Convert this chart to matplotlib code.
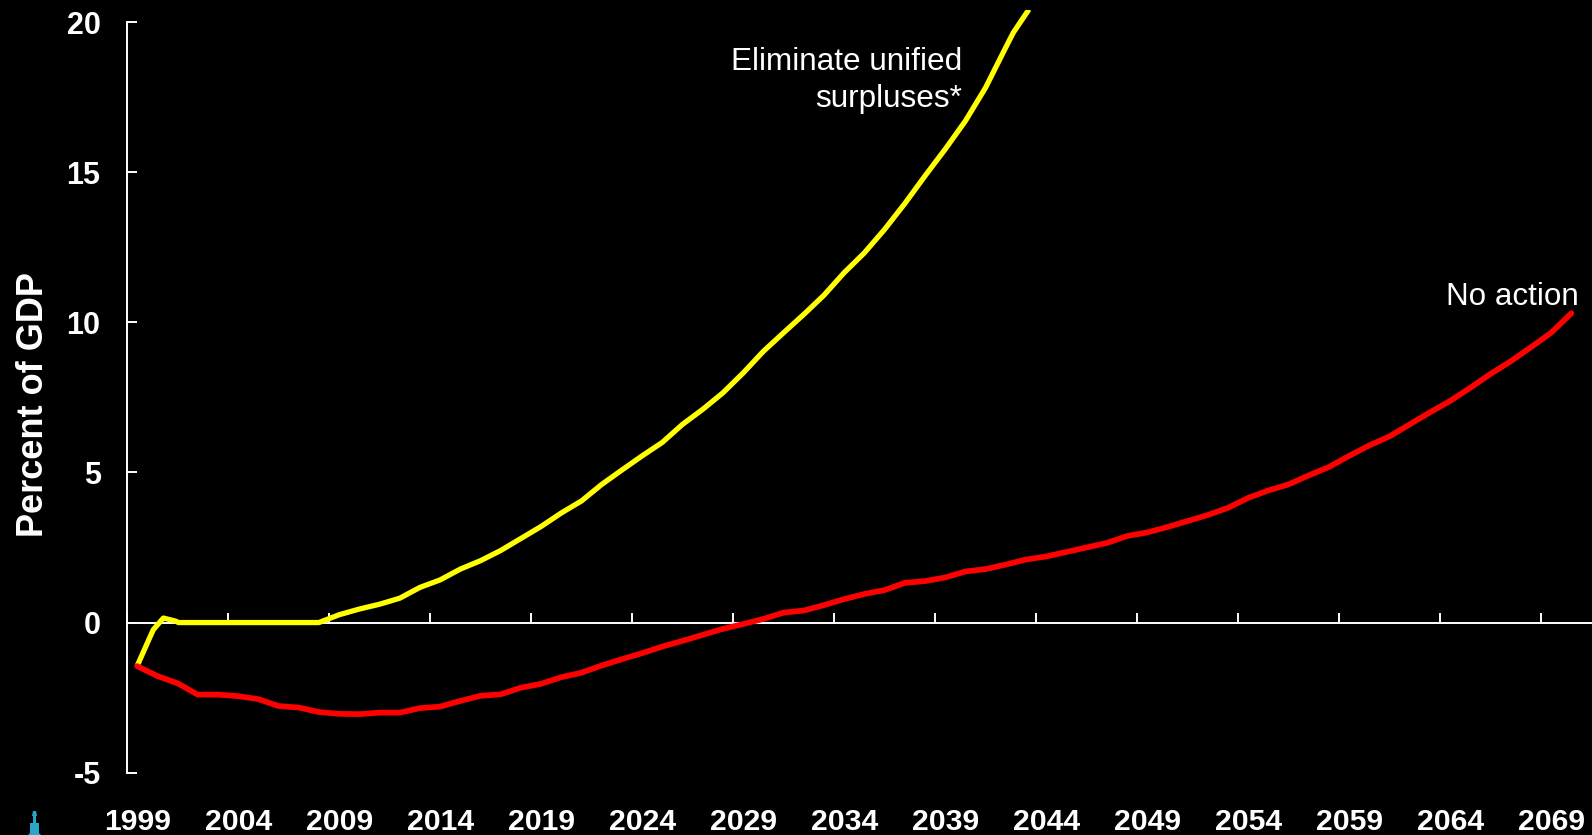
import matplotlib
matplotlib.use('Agg')
import matplotlib.pyplot as plt
from matplotlib.patches import Polygon
from matplotlib.transforms import blended_transform_factory

plt.rcParams['font.family'] = ['Liberation Sans', 'DejaVu Sans']
plt.rcParams['axes.unicode_minus'] = False

W, H = 1592, 835

# values, percent of GDP
no_action_years = list(range(1999, 2071))
no_action = [-1.45, -1.78, -2.02, -2.4, -2.4, -2.45, -2.55, -2.78, -2.83, -2.98,
             -3.04, -3.05, -3.0, -3.0, -2.85, -2.8, -2.61, -2.44, -2.39, -2.17,
             -2.04, -1.82, -1.67, -1.43, -1.22, -1.02, -0.8, -0.61, -0.41, -0.21,
             -0.05, 0.12, 0.33, 0.4, 0.58, 0.78, 0.95, 1.08, 1.32, 1.38,
             1.5, 1.7, 1.78, 1.93, 2.1, 2.2, 2.35, 2.5, 2.65, 2.88,
             3.0, 3.18, 3.38, 3.58, 3.82, 4.15, 4.4, 4.6, 4.9, 5.18,
             5.55, 5.9, 6.2, 6.6, 7.0, 7.38, 7.82, 8.28, 8.7, 9.17,
             9.65, 10.3]

surplus_years = [1999, 1999.5, 1999.8, 2000.3, 2000.9, 2001.05, 2002, 2003, 2004, 2005,
                 2006, 2007, 2008] + list(range(2009, 2043)) + [2042.38, 2043.15]
surplus = [-1.45, -0.69, -0.24, 0.15, 0.05, 0.0, 0.0, 0.0, 0.0, 0.0,
           0.0, 0.0, 0.0,
           0.26, 0.45, 0.61, 0.81, 1.17, 1.42, 1.78, 2.06, 2.4, 2.8,
           3.2, 3.65, 4.05, 4.6, 5.08, 5.55, 6.0, 6.6, 7.1, 7.65,
           8.31, 9.03, 9.65, 10.26, 10.9, 11.65, 12.31, 13.09, 13.95, 14.87,
           15.76, 16.7, 17.81, 19.15, 19.65, 20.42]

y_ticks = [-5, 0, 5, 10, 15, 20]
x_labels = list(range(1999, 2070, 5))
x_ticks = [yr - 0.5 for yr in x_labels]

fig = plt.figure(figsize=(W / 100, H / 100), dpi=100, facecolor='black')
# axes run from the y axis to the right edge, -5 at the bottom, line clipped just over 20
left, bottom, top = 127, 772.7, 10
ax = fig.add_axes([left / W, 1 - bottom / H, (W - left) / W, (bottom - top) / H], facecolor='black')
ax.set_xlim(1998.5, 1998.5 + (W - left) / 20.2)
ax.set_ylim(-5, 20.4)

ax.plot(surplus_years, surplus, color='#ffff00', lw=3.8, solid_capstyle='butt', zorder=3)
ax.plot(no_action_years, no_action, color='#ff0000', lw=4.1, solid_capstyle='round', zorder=4)

for s in ['top', 'right']:
    ax.spines[s].set_visible(False)
ax.spines['left'].set_bounds(-5, 20)
ax.spines['left'].set_color('white')
ax.spines['left'].set_linewidth(1.4)
ax.spines['bottom'].set_position(('data', 0))
ax.spines['bottom'].set_color('white')
ax.spines['bottom'].set_linewidth(1.4)

ax.set_yticks(y_ticks)
ax.set_yticklabels([str(v) for v in y_ticks])
ax.tick_params(axis='y', direction='in', length=7.5, width=1.4, color='white', labelcolor='white',
               labelsize=22, pad=19)
for lab in ax.get_yticklabels():
    lab.set_fontweight('bold')
ax.set_xticks(x_ticks)
ax.set_xticklabels([])
ax.tick_params(axis='x', direction='in', length=7.5, width=1.4, color='white')

to_fig = fig.transFigure
label_trans = blended_transform_factory(ax.transData, to_fig)
for yr in x_labels:
    ax.text(yr + 0.03, 1 - 830.5 / H, str(yr), transform=label_trans, color='white', fontsize=21.7,
            fontweight='bold', ha='center', va='baseline', clip_on=False)

fig.text(33.5 / W, 1 - 405 / H, 'Percent of GDP', rotation=90, color='white', fontsize=26,
         fontweight='bold', ha='center', va='center')
fig.text(1579 / W, 1 - 305 / H, 'No action', color='white', fontsize=22.6, ha='right', va='baseline')
fig.text(962.5 / W, 1 - 70 / H, 'Eliminate unified', color='white', fontsize=22.7, ha='right', va='baseline')
fig.text(962.5 / W, 1 - 107.5 / H, 'surpluses*', color='white', fontsize=22.7, ha='right', va='baseline')

# small blue logo in the lower left corner
logo = [(33, 811), (36, 811), (37, 816), (36, 816), (36, 823), (39, 823), (39, 833), (41, 835),
        (28, 835), (30, 833), (30, 823), (33, 823), (33, 816), (32, 816)]
fig.patches.append(Polygon([(x / W, 1 - y / H) for x, y in logo], closed=True, transform=to_fig,
                           facecolor='#2ba6cb', edgecolor='none'))

fig.savefig('out.png', dpi=100, facecolor='black')
